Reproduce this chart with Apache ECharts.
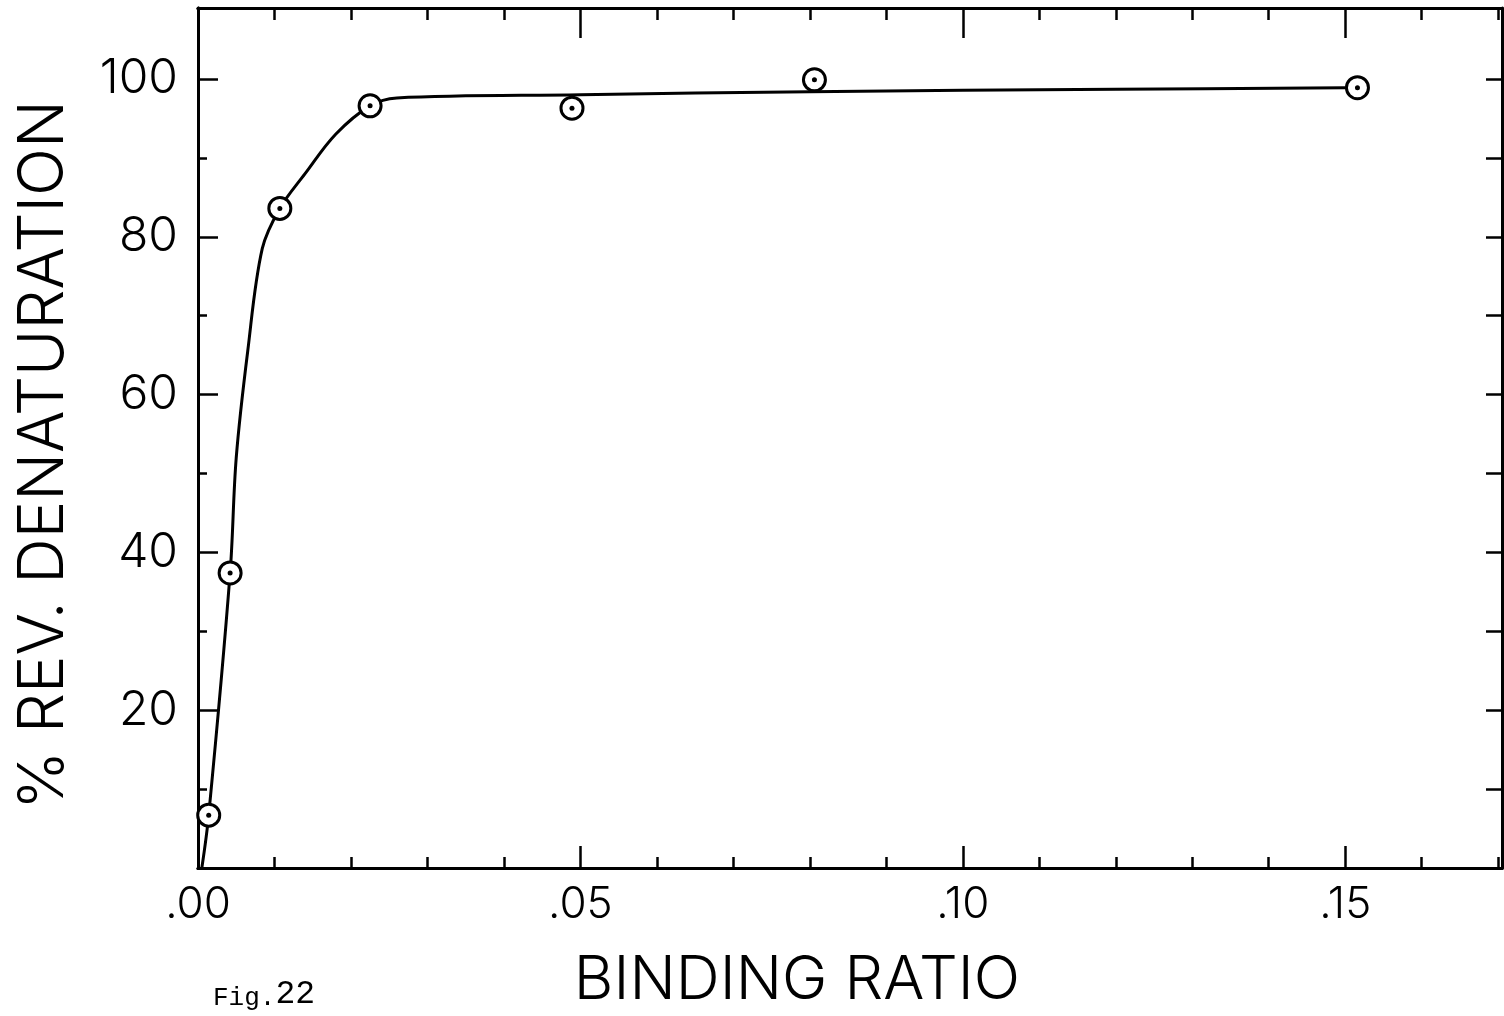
<!DOCTYPE html>
<html>
<head>
<meta charset="utf-8">
<title>Binding ratio vs. reversible denaturation</title>
<script src="https://cdn.jsdelivr.net/npm/echarts@6/dist/echarts.min.js"></script>
<style>
  html, body { margin: 0; padding: 0; background: #ffffff; }
  #chart { width: 1504px; height: 1016px; }
</style>
</head>
<body>
<div id="chart"></div>
<script>
// Tick labels
const xTickValues = [0, 0.05, 0.10, 0.15];
const xTickLabels = ['.00', '.05', '.10', '.15'];
const yTickValues = [20, 40, 60, 80, 100];
const yTickLabels = ['20', '40', '60', '80', '100'];

// Measured points
const bindingRatio = [0.0014, 0.0042, 0.0107, 0.0225, 0.0489, 0.0806, 0.1516];
const revDenaturation = [6.7, 37.4, 83.6, 96.6, 96.3, 99.9, 98.9];

// Hand-drawn trend curve through the points
const curveX = [0.0005, 0.0014, 0.0042, 0.0050, 0.0065, 0.0084, 0.0107,
                0.0140, 0.0180, 0.0225, 0.0260, 0.05, 0.08, 0.12, 0.1500];
const curveY = [0, 6.7, 37.4, 52.0, 65.5, 78.5, 83.6,
                88.0, 93.0, 96.6, 97.6, 98.0, 98.4, 98.7, 98.9];

const X_MAX = 0.1705;
const Y_MAX = 109;
const INK = '#000000';
const LABEL_FONT = 'Inter, "DejaVu Sans", sans-serif';
const LABEL_WEIGHT = 300;

function pick(values, labels) {
  return function (v) {
    const i = values.findIndex(t => Math.abs(t - v) < 1e-9);
    return i >= 0 ? labels[i] : '';
  };
}

const axisLine = { show: true, onZero: false, lineStyle: { color: INK, width: 3 } };

function xAxisDef(position, tickLen, interval, withLabels) {
  return {
    type: 'value', position, min: 0, max: X_MAX, interval,
    axisLine,
    splitLine: { show: false },
    axisTick: { show: true, inside: true, length: tickLen, lineStyle: { color: INK, width: 2.5 } },
    axisLabel: withLabels ? {
      show: true, margin: 15, color: INK, fontFamily: LABEL_FONT, fontSize: 44, fontWeight: LABEL_WEIGHT,
      showMaxLabel: false,
      formatter: pick(xTickValues, xTickLabels)
    } : { show: false }
  };
}

function yAxisDef(position, tickLen, interval, withLabels) {
  return {
    type: 'value', position, min: 0, max: Y_MAX, interval,
    axisLine,
    splitLine: { show: false },
    axisTick: { show: true, inside: true, length: tickLen, lineStyle: { color: INK, width: 2.5 } },
    axisLabel: withLabels ? {
      show: true, margin: 20, color: INK, fontFamily: LABEL_FONT, fontSize: 48, fontWeight: LABEL_WEIGHT,
      showMaxLabel: false, showMinLabel: false,
      formatter: pick(yTickValues, yTickLabels)
    } : { show: false }
  };
}

const xMain = xAxisDef('bottom', 22, 0.05, true);
xMain.name = 'BINDING RATIO';
xMain.nameLocation = 'middle';
xMain.nameGap = 82;
xMain.nameTextStyle = { color: INK, fontFamily: LABEL_FONT, fontSize: 61, fontWeight: LABEL_WEIGHT, padding: [0, 106, 0, 0] };

const yMain = yAxisDef('left', 20, 20, true);
yMain.name = '% REV. DENATURATION';
yMain.nameLocation = 'middle';
yMain.nameGap = 122;
yMain.nameTextStyle = { color: INK, fontFamily: LABEL_FONT, fontSize: 63, fontWeight: LABEL_WEIGHT, padding: [0, 34, 0, 0] };

const option = {
  backgroundColor: '#ffffff',
  animation: false,
  grid: { left: 198, right: 2, top: 8, bottom: 143, containLabel: false },
  xAxis: [
    xMain,
    xAxisDef('bottom', 11, 0.01, false),
    xAxisDef('top', 30, 0.05, false),
    xAxisDef('top', 12, 0.01, false)
  ],
  yAxis: [
    yMain,
    yAxisDef('left', 9, 10, false),
    yAxisDef('right', 16, 10, false)
  ],
  graphic: [{
    type: 'text', left: 213, top: 978,
    style: {
      text: '{a|Fig.}{b|22}', fill: INK,
      rich: {
        a: { fontFamily: '"Liberation Mono", "DejaVu Sans Mono", monospace', fontSize: 26, verticalAlign: 'bottom', lineHeight: 34 },
        b: { fontFamily: '"Liberation Mono", "DejaVu Sans Mono", monospace', fontSize: 33, verticalAlign: 'bottom', lineHeight: 34 }
      }
    }
  }],
  series: [
    {
      name: 'trend', type: 'line', xAxisIndex: 0, yAxisIndex: 0,
      data: curveX.map((x, i) => [x, curveY[i]]),
      smooth: 0.35, showSymbol: false, symbol: 'none',
      lineStyle: { color: INK, width: 3 }, z: 2
    },
    {
      name: 'points', type: 'scatter', xAxisIndex: 0, yAxisIndex: 0,
      data: bindingRatio.map((x, i) => [x, revDenaturation[i]]),
      symbol: 'circle', symbolSize: 22,
      itemStyle: { color: '#ffffff', borderColor: INK, borderWidth: 3, opacity: 1 }, z: 3
    },
    {
      name: 'centres', type: 'scatter', xAxisIndex: 0, yAxisIndex: 0,
      data: bindingRatio.map((x, i) => [x, revDenaturation[i]]),
      symbol: 'circle', symbolSize: 5,
      itemStyle: { color: INK, opacity: 1 }, z: 4
    }
  ]
};

const chart = echarts.init(document.getElementById('chart'), null, { renderer: 'canvas' });
chart.setOption(option);
</script>
</body>
</html>
